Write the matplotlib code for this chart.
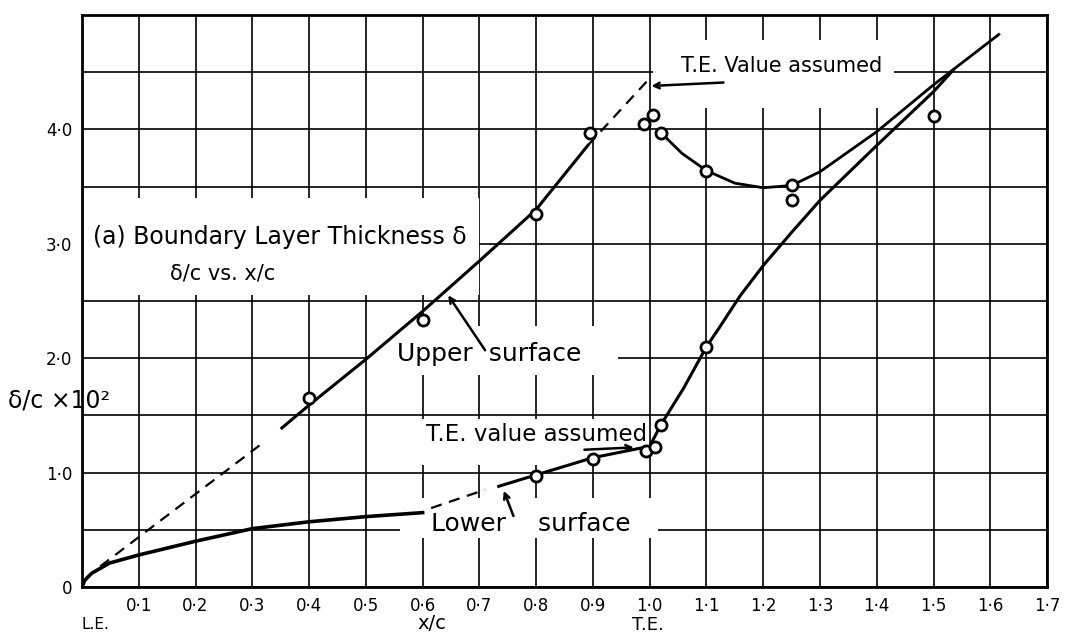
import numpy as np
import matplotlib.pyplot as plt
from matplotlib.patches import Rectangle

# upper surface, delta/c x 10^2 against x/c
up_x = [0.352, 0.4, 0.5, 0.6, 0.7, 0.8, 0.891]
up_y = [1.39, 1.59, 1.99, 2.41, 2.85, 3.30, 3.86]
up_le_dash_x = [0.032, 0.316]
up_le_dash_y = [0.18, 1.25]
up_te_dash_x = [0.891, 0.995]
up_te_dash_y = [3.86, 4.42]
up_pts_x = [0.4, 0.6, 0.8, 0.895, 0.99, 1.005, 1.02, 1.1, 1.25, 1.25, 1.5]
up_pts_y = [1.65, 2.33, 3.26, 3.97, 4.05, 4.13, 3.97, 3.64, 3.51, 3.38, 4.12]
up_wake_x = [1.02, 1.057, 1.1, 1.15, 1.2, 1.25, 1.3, 1.4, 1.5, 1.615]
up_wake_y = [3.97, 3.79, 3.64, 3.53, 3.49, 3.51, 3.63, 3.98, 4.39, 4.83]

# lower surface
lo_le_x = [0.0, 0.005, 0.017, 0.049, 0.1, 0.15, 0.2, 0.3, 0.4, 0.5, 0.6]
lo_le_y = [0.0, 0.06, 0.12, 0.21, 0.28, 0.34, 0.40, 0.51, 0.57, 0.615, 0.65]
lo_dash_x = [0.615, 0.71]
lo_dash_y = [0.69, 0.85]
lo_x = [0.734, 0.8, 0.9, 0.97, 1.0, 1.02, 1.06, 1.1, 1.123, 1.16, 1.2, 1.25, 1.3, 1.4, 1.5, 1.535]
lo_y = [0.88, 0.98, 1.13, 1.2, 1.23, 1.42, 1.74, 2.1, 2.27, 2.55, 2.81, 3.10, 3.38, 3.86, 4.33, 4.52]
lo_pts_x = [0.8, 0.9, 0.993, 1.01, 1.02, 1.1]
lo_pts_y = [0.97, 1.12, 1.19, 1.22, 1.42, 2.1]

xticks = [round(0.1 * i, 1) for i in range(18)]
xlabels = [''] + ['%d·%d' % (int(v), round(v * 10) % 10) for v in xticks[1:]]
yticks = [0.5 * i for i in range(11)]
ylabels = ['0', '', '1·0', '', '2·0', '', '3·0', '', '4·0', '', '']

# blank patches where the grid is left out round the writing (x0, y0, w, h)
gaps = [(0.0, 2.55, 0.70, 0.85), (0.505, 1.85, 0.44, 0.43), (0.55, 1.07, 0.42, 0.40),
        (0.56, 0.43, 0.455, 0.35), (1.005, 4.19, 0.425, 0.59)]

fig = plt.figure(figsize=(10.68, 6.39), dpi=100)
ax = fig.add_axes([0.0768, 0.0814, 0.9036, 0.8951])
ax.set_xlim(0, 1.7)
ax.set_ylim(0, 5.0)
ax.set_xticks(xticks)
ax.set_xticklabels(xlabels, fontsize=12)
ax.set_yticks(yticks)
ax.set_yticklabels(ylabels, fontsize=12)
ax.tick_params(length=0, pad=7)
ax.set_axisbelow(True)
ax.grid(True, color='black', lw=1.2)
for s in ax.spines.values():
    s.set_linewidth(2)

for g in gaps:
    ax.add_patch(Rectangle((g[0], g[1]), g[2], g[3], facecolor='white', edgecolor='none', zorder=1))

dash = (0, (5, 3.5))
ax.plot(up_x, up_y, color='black', lw=2.2, zorder=4)
ax.plot(up_le_dash_x, up_le_dash_y, color='black', lw=1.6, ls=dash, zorder=4)
ax.plot(up_te_dash_x, up_te_dash_y, color='black', lw=1.6, ls=dash, zorder=4)
ax.plot(up_wake_x, up_wake_y, color='black', lw=2.0, zorder=4)
ax.plot(lo_le_x, lo_le_y, color='black', lw=2.6, zorder=4)
ax.plot(lo_dash_x, lo_dash_y, color='black', lw=1.6, ls=dash, zorder=4)
ax.plot(lo_x, lo_y, color='black', lw=2.2, zorder=4)
ax.plot(up_pts_x, up_pts_y, 'o', ms=8, mfc='white', mec='black', mew=2, zorder=5)
ax.plot(lo_pts_x, lo_pts_y, 'o', ms=8, mfc='white', mec='black', mew=2, zorder=5)

ax.text(0.019, 3.06, '(a) Boundary Layer Thickness δ', fontsize=17, va='center', ha='left', zorder=3)
ax.text(0.155, 2.74, 'δ/c vs. x/c', fontsize=15, va='center', ha='left', zorder=3)
ax.text(0.555, 2.04, 'Upper  surface', fontsize=18, va='center', ha='left', zorder=3)
ax.text(0.606, 1.33, 'T.E. value assumed', fontsize=16.5, va='center', ha='left', zorder=3)
ax.text(0.615, 0.55, 'Lower    surface', fontsize=18, va='center', ha='left', zorder=3)
ax.text(1.056, 4.55, 'T.E. Value assumed', fontsize=15, va='center', ha='left', zorder=3)

arw = dict(arrowstyle='->', lw=1.8, color='black', shrinkA=0, shrinkB=0)
ax.annotate('', xy=(1.003, 4.38), xytext=(1.13, 4.41), arrowprops=arw, zorder=6)
ax.annotate('', xy=(0.645, 2.55), xytext=(0.71, 2.07), arrowprops=arw, zorder=6)
ax.annotate('', xy=(0.972, 1.22), xytext=(0.885, 1.2), arrowprops=arw, zorder=6)
ax.annotate('', xy=(0.743, 0.84), xytext=(0.76, 0.62), arrowprops=arw, zorder=6)

fig.text(0.0075, 0.374, 'δ/c ×10²', fontsize=17, va='center', ha='left')
fig.text(0.089, 0.022, 'L.E.', fontsize=11, va='center', ha='center')
fig.text(0.404, 0.025, 'x/c', fontsize=14, va='center', ha='center')
fig.text(0.607, 0.022, 'T.E.', fontsize=13, va='center', ha='center')

fig.savefig('out.png', dpi=100)
